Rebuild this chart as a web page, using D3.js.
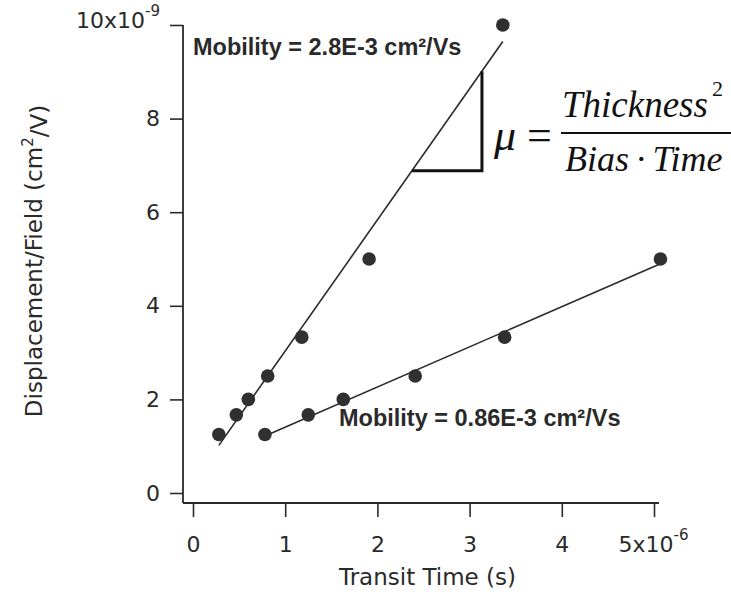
<!DOCTYPE html>
<html><head><meta charset="utf-8">
<script src="https://cdn.jsdelivr.net/npm/d3@7"></script>
<style>body{margin:0;background:#fff}</style>
</head><body><svg id="c" width="731" height="592"></svg>
<script>
// Data (time in 1e-6 s, displacement/field in 1e-9 cm^2/V)
const fastTime = [0.28, 0.47, 0.60, 0.81, 1.18, 1.91, 3.36];
const fastDisp = [1.25, 1.67, 2.0, 2.5, 3.33, 5.0, 10.0];
const slowTime = [0.78, 1.25, 1.63, 2.41, 3.38, 5.07];
const slowDisp = [1.25, 1.67, 2.0, 2.5, 3.33, 5.0];
const xTicks = [0, 1, 2, 3, 4, 5];
const yTicks = [0, 2, 4, 6, 8, 10];
const fastLabel = "Mobility = 2.8E-3 cm\u00B2/Vs";
const slowLabel = "Mobility = 0.86E-3 cm\u00B2/Vs";
const triangleX = [2.375, 3.134];

const svg = d3.select("#c");
const x = d3.scaleLinear().domain([0, 5]).range([193, 654]);
const y = d3.scaleLinear().domain([0, 10]).range([493, 25]);
const ink = "#2a2a2a";
const tickFont = "'DejaVu Sans', Verdana, sans-serif";
const fs = 22;

function fit(xs, ys) {
  const n = xs.length, mx = d3.mean(xs), my = d3.mean(ys);
  let sxy = 0, sxx = 0;
  for (let i = 0; i < n; i++) { sxy += (xs[i]-mx)*(ys[i]-my); sxx += (xs[i]-mx)**2; }
  const b = sxy / sxx; return {a: my - b*mx, b};
}

const axX0 = x(0) - 10, axY0 = y(0) + 10;

// Y axis
const gy = svg.append("g").attr("transform", `translate(${axX0},0)`)
  .call(d3.axisLeft(y).tickValues(yTicks).tickSize(13).tickPadding(10).tickFormat(d => d === 10 ? "" : d));
gy.select(".domain").remove();
gy.selectAll("line").attr("stroke", ink).attr("stroke-width", 1.6);
gy.selectAll("text").attr("font-family", tickFont).attr("font-size", fs).attr("fill", ink);
const t10 = gy.selectAll(".tick").filter(d => d === 10).select("text").attr("dy", "0.1em");
t10.append("tspan").text("10x10");
t10.append("tspan").text("-9").attr("font-size", 15).attr("dy", "-0.75em");

svg.append("line").attr("x1", axX0).attr("x2", axX0).attr("y1", y(10)).attr("y2", axY0)
  .attr("stroke", ink).attr("stroke-width", 1.8);

// X axis
const gx = svg.append("g").attr("transform", `translate(0,${axY0})`)
  .call(d3.axisBottom(x).tickValues(xTicks).tickSize(14).tickPadding(19).tickFormat(d => d === 5 ? "" : d));
gx.select(".domain").remove();
gx.selectAll("line").attr("stroke", ink).attr("stroke-width", 1.6);
gx.selectAll("text").attr("font-family", tickFont).attr("font-size", fs).attr("fill", ink);
const t5 = gx.selectAll(".tick").filter(d => d === 5).select("text").attr("text-anchor", "start").attr("x", -36);
t5.append("tspan").text("5x10");
t5.append("tspan").text("-6").attr("font-size", 15).attr("dy", "-0.75em");

svg.append("line").attr("x1", axX0).attr("x2", x(5) + 5).attr("y1", axY0).attr("y2", axY0)
  .attr("stroke", ink).attr("stroke-width", 1.8);

// Axis titles
svg.append("text").attr("x", (x(0)+x(5))/2 + 4).attr("y", 585).attr("text-anchor", "middle")
  .attr("font-family", tickFont).attr("font-size", 23).attr("fill", ink).text("Transit Time (s)");
const yt = svg.append("text").attr("transform", "rotate(-90)").attr("x", -261).attr("y", 42)
  .attr("text-anchor", "middle").attr("font-family", tickFont).attr("font-size", 23).attr("fill", ink);
yt.append("tspan").text("Displacement/Field (cm");
yt.append("tspan").text("2").attr("font-size", 15).attr("dy", "-0.6em");
yt.append("tspan").text("/V)").attr("dy", "0.6em");

// Fit lines
const fastFit = fit(fastTime, fastDisp), slowFit = fit(slowTime, slowDisp);
function drawFit(f, xs) {
  const x0 = d3.min(xs), x1 = d3.max(xs);
  svg.append("line").attr("x1", x(x0)).attr("y1", y(f.a + f.b*x0))
    .attr("x2", x(x1)).attr("y2", y(f.a + f.b*x1))
    .attr("stroke", ink).attr("stroke-width", 1.6);
}
drawFit(fastFit, fastTime);
drawFit(slowFit, slowTime);

// Points
function drawPts(xs, ys) {
  svg.append("g").selectAll("circle").data(xs).join("circle")
    .attr("cx", (d) => x(d)).attr("cy", (d, i) => y(ys[i])).attr("r", 6.8)
    .attr("fill", "#303030");
}
drawPts(fastTime, fastDisp);
drawPts(slowTime, slowDisp);

// Slope triangle
const tx0 = triangleX[0], tx1 = triangleX[1];
const p0 = [x(tx0), y(fastFit.a + fastFit.b*tx0)];
const p1 = [x(tx1), y(fastFit.a + fastFit.b*tx1)];
svg.append("path").attr("d", `M${p0[0]},${p0[1]}L${p1[0]},${p0[1]}L${p1[0]},${p1[1]}`)
  .attr("fill", "none").attr("stroke", "#111").attr("stroke-width", 3);

// Mobility labels
const sans = "'Liberation Sans', Arial, sans-serif";
svg.append("text").attr("x", 193).attr("y", 55).attr("font-family", sans)
  .attr("font-weight", "bold").attr("font-size", 23.5).attr("fill", ink).text(fastLabel);
svg.append("text").attr("x", 339).attr("y", 426).attr("font-family", sans)
  .attr("font-weight", "bold").attr("font-size", 23.5).attr("fill", ink).text(slowLabel);

// Formula
const serif = "'Liberation Serif', 'Times New Roman', serif";
svg.append("text").attr("x", 494).attr("y", 150).attr("font-family", serif).attr("font-style", "italic")
  .attr("font-size", 44).attr("fill", "#111").text("\u03BC");
svg.append("text").attr("x", 527).attr("y", 150).attr("font-family", serif)
  .attr("font-size", 44).attr("fill", "#111").text("=");
svg.append("line").attr("x1", 561).attr("x2", 731).attr("y1", 133).attr("y2", 133)
  .attr("stroke", "#111").attr("stroke-width", 2);
const num = svg.append("text").attr("x", 562).attr("y", 117).attr("font-family", serif)
  .attr("font-style", "italic").attr("font-size", 37).attr("fill", "#111");
num.append("tspan").text("Thickness");
num.append("tspan").text("2").attr("font-style", "normal").attr("font-size", 22).attr("dy", "-0.95em").attr("dx", 4);
svg.append("text").attr("x", 565).attr("y", 171).attr("font-family", serif)
  .attr("font-style", "italic").attr("font-size", 36).attr("fill", "#111").text("Bias\u2009\u00B7\u2009Time");
</script></body></html>
